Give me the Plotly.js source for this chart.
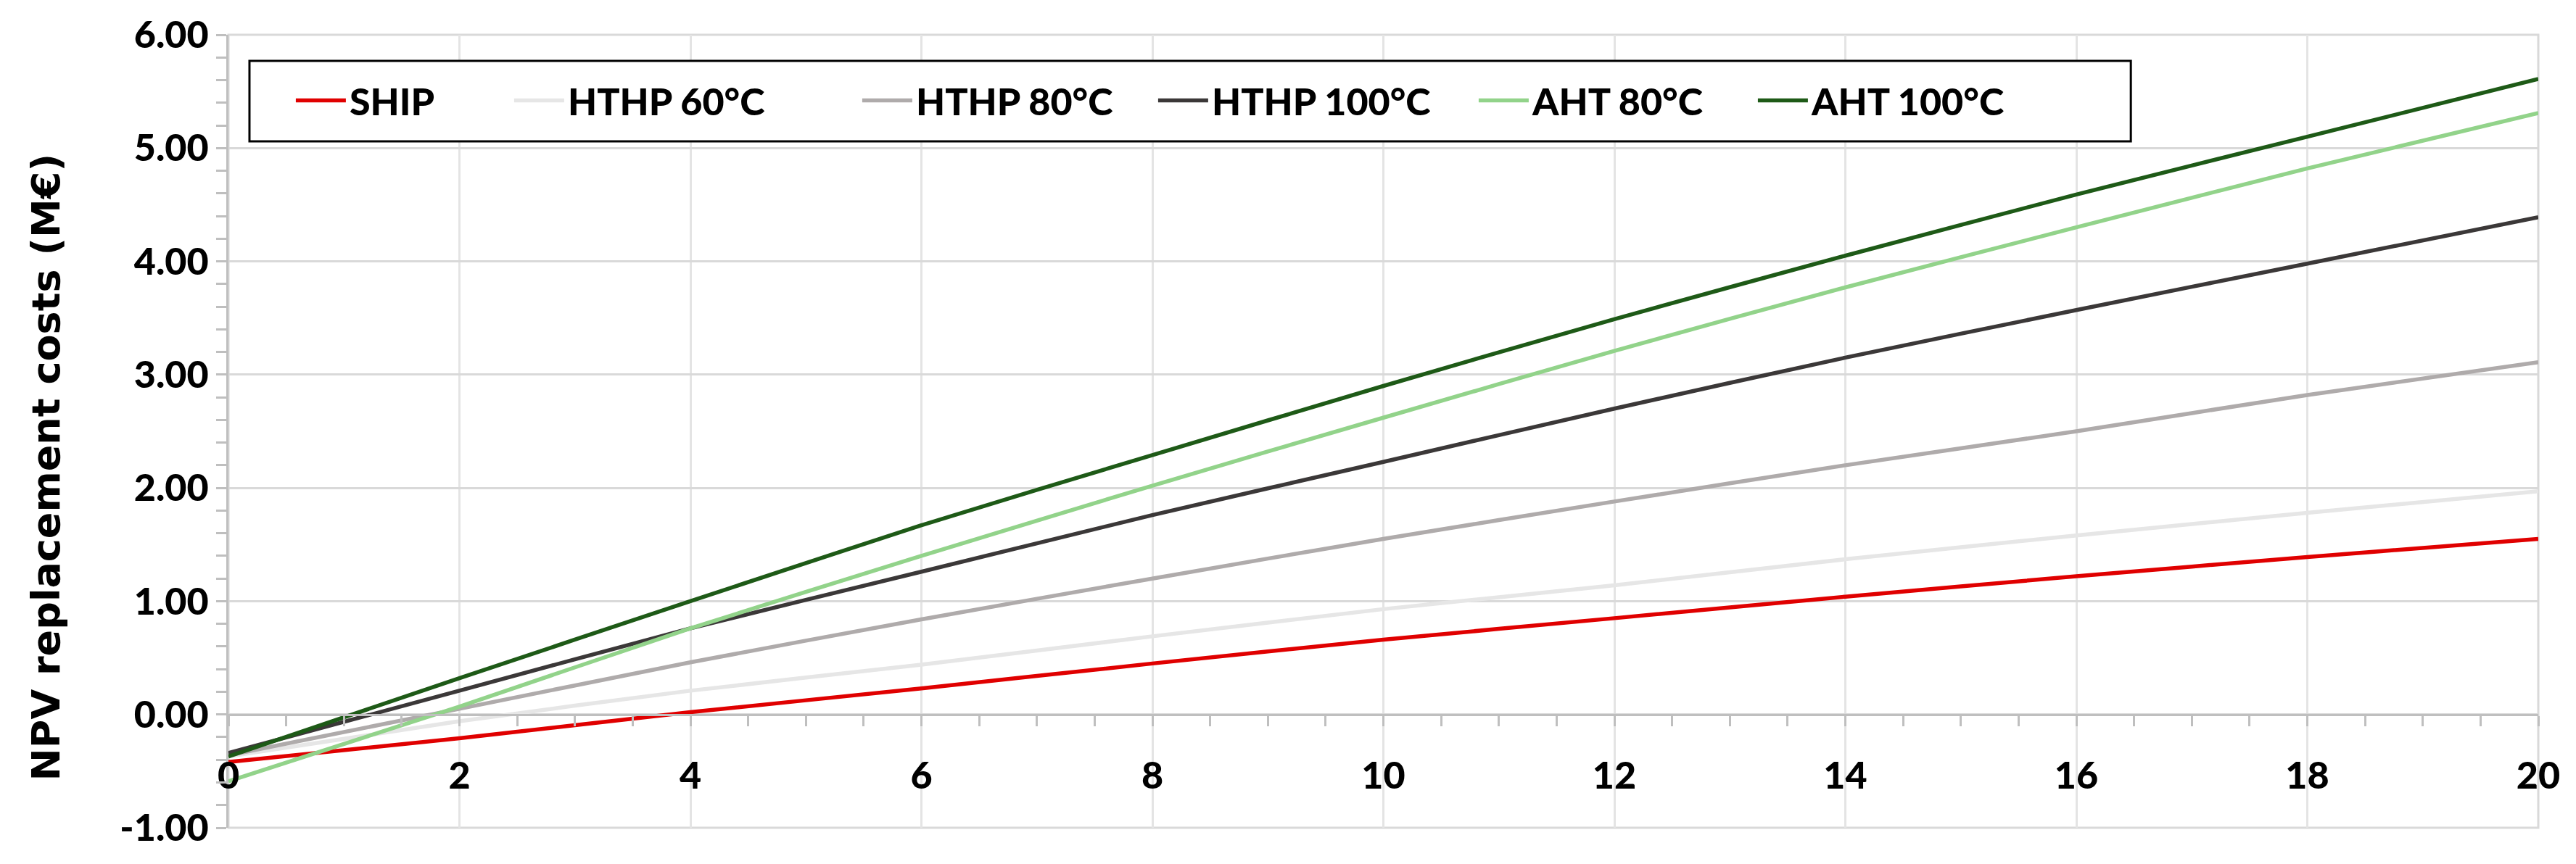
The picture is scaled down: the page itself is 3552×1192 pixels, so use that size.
<!DOCTYPE html>
<html>
<head>
<meta charset="utf-8">
<script src="https://cdn.plot.ly/plotly-3.0.1.min.js"></script>
<style>
  html, body { margin: 0; padding: 0; background: #fff; }
  #plot { width: 3552px; height: 1192px; }
</style>
</head>
<body>
<div id="plot"></div>
<script>
document.addEventListener("DOMContentLoaded", function(event) {

  // years of operation
  const years = [0, 2, 4, 6, 8, 10, 12, 14, 16, 18, 20];

  // NPV of replacement costs (M€)
  const ship    = [-0.42, -0.21, 0.02, 0.23, 0.45, 0.66, 0.85, 1.04, 1.22, 1.39, 1.55];
  const hthp60  = [-0.37, -0.06, 0.21, 0.44, 0.69, 0.93, 1.14, 1.37, 1.58, 1.78, 1.97];
  const hthp80  = [-0.36, 0.05, 0.46, 0.84, 1.20, 1.55, 1.88, 2.20, 2.50, 2.82, 3.11];
  const hthp100 = [-0.34, 0.21, 0.76, 1.26, 1.76, 2.23, 2.70, 3.15, 3.57, 3.98, 4.39];
  const aht80   = [-0.59, 0.07, 0.76, 1.40, 2.02, 2.62, 3.21, 3.77, 4.30, 4.82, 5.31];
  const aht100  = [-0.37, 0.32, 1.00, 1.67, 2.29, 2.90, 3.49, 4.05, 4.59, 5.10, 5.61];

  const seriesNames = ['SHIP', 'HTHP 60°C', 'HTHP 80°C', 'HTHP 100°C', 'AHT 80°C', 'AHT 100°C'];
  const seriesValues = [ship, hthp60, hthp80, hthp100, aht80, aht100];
  const seriesColors = ['#E00000', '#E6E6E6', '#AFABAB', '#3B3838', '#92D38A', '#1E5A17'];
  // spacing of the legend entries
  const legendWidths = [217, 396, 324, 358, 301, 420];

  const yTickVals = [-1, 0, 1, 2, 3, 4, 5, 6];
  const yTickText = ['-1.00', '0.00', '1.00', '2.00', '3.00', '4.00', '5.00', '6.00'];
  const xTickVals = [0, 2, 4, 6, 8, 10, 12, 14, 16, 18, 20];
  const xTickText = ['0', '2', '4', '6', '8', '10', '12', '14', '16', '18', '20'];

  const data = seriesNames.map(function(name, i) {
    return {
      x: years,
      y: seriesValues[i],
      name: name,
      type: 'scatter',
      mode: 'lines',
      line: { color: seriesColors[i], width: 5.5, shape: 'spline', smoothing: 0.6 },
      legendwidth: legendWidths[i],
      hoverinfo: 'skip'
    };
  });

  const tickFont = { family: 'Lato, "Open Sans", sans-serif', size: 52, color: '#000', weight: 900 };

  const layout = {
    width: 3552,
    height: 1192,
    margin: { l: 315, r: 52, t: 48, b: 50, pad: 0 },
    paper_bgcolor: '#fff',
    plot_bgcolor: '#fff',
    font: tickFont,
    showlegend: true,
    legend: {
      orientation: 'h',
      x: 0.0276, xanchor: 'left',
      y: 0.917, yanchor: 'middle',
      bgcolor: 'rgba(0,0,0,0)',
      borderwidth: 0,
      itemwidth: 69,
      font: tickFont,
      traceorder: 'normal'
    },
    xaxis: {
      range: [0, 20],
      tickvals: xTickVals,
      ticktext: xTickText,
      anchor: 'free',
      position: 1 / 7,
      showline: true,
      linecolor: '#BFBFBF',
      linewidth: 3,
      ticks: 'outside',
      ticklen: 14,
      tickwidth: 3,
      tickcolor: '#BFBFBF',
      ticklabelstandoff: 24,
      showgrid: true,
      gridcolor: '#E4E4E4',
      gridwidth: 3,
      zeroline: false,
      tickfont: tickFont,
      minor: { dtick: 0.5, ticks: 'outside', ticklen: 14, tickwidth: 3, tickcolor: '#BFBFBF', showgrid: false }
    },
    yaxis: {
      range: [-1, 6],
      tickvals: yTickVals,
      ticktext: yTickText,
      showline: true,
      linecolor: '#BFBFBF',
      linewidth: 3,
      ticks: 'outside',
      ticklen: 14,
      tickwidth: 3,
      tickcolor: '#BFBFBF',
      showgrid: true,
      gridcolor: '#D9D9D9',
      gridwidth: 3,
      zeroline: false,
      tickfont: tickFont,
      minor: { dtick: 0.2, ticks: 'outside', ticklen: 14, tickwidth: 3, tickcolor: '#BFBFBF', showgrid: false }
    },
    shapes: [
      {
        type: 'rect', xref: 'paper', yref: 'paper',
        x0: 0, x1: 1, y0: 0, y1: 1,
        line: { color: '#D9D9D9', width: 3 },
        layer: 'below'
      },
      {
        type: 'rect', xref: 'paper', yref: 'paper',
        x0: 0.0091, x1: 0.8236, y0: 0.8656, y1: 0.9671,
        line: { color: '#000', width: 3 },
        fillcolor: '#fff',
        layer: 'above'
      }
    ],
    annotations: [
      {
        text: 'NPV replacement costs (M€)',
        xref: 'paper', yref: 'paper',
        x: -0.0791, y: 0.454,
        xanchor: 'center', yanchor: 'middle',
        textangle: -90,
        showarrow: false,
        font: { family: '"DejaVu Sans", Verdana, sans-serif', size: 54, color: '#000', weight: 'bold' }
      }
    ]
  };

  Plotly.newPlot('plot', data, layout, { staticPlot: true, displayModeBar: false });

});
</script>
</body>
</html>
